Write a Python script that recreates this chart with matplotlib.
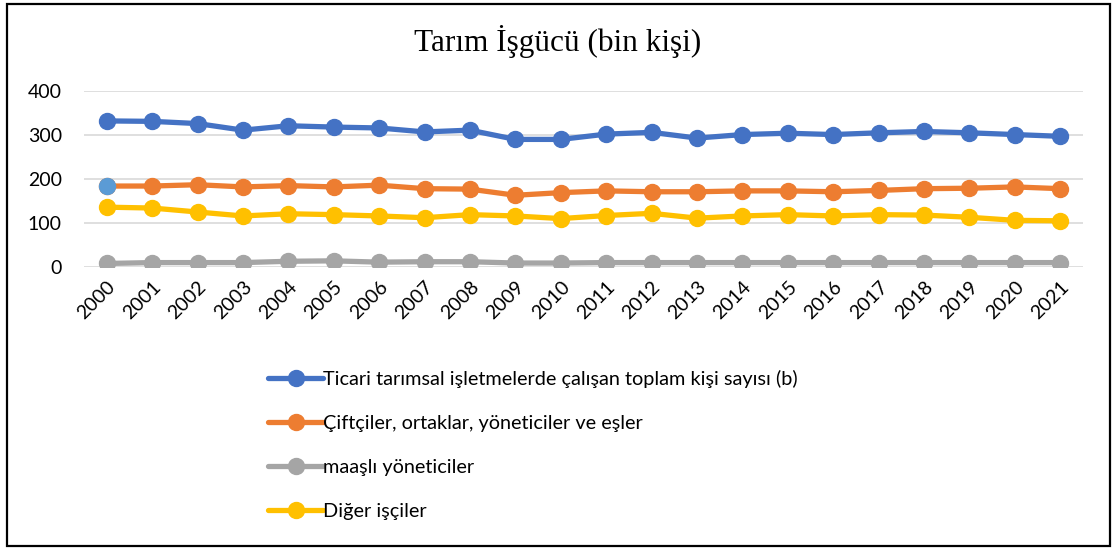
import matplotlib.pyplot as plt
from matplotlib.patches import Rectangle

years = [str(y) for y in range(2000, 2022)]

# Ticari tarımsal işletmelerde çalışan toplam kişi sayısı (b)
toplam = [332, 331, 326, 311, 321, 318, 316, 307, 311, 290, 290,
          302, 306, 293, 301, 304, 301, 305, 308, 305, 301, 297]
# Çiftçiler, ortaklar, yöneticiler ve eşler
ciftci = [184, 184, 187, 182, 185, 182, 186, 178, 177, 163, 169,
          173, 171, 171, 173, 173, 171, 174, 178, 179, 182, 178]
# maaşlı yöneticiler
maasli = [8, 10, 10, 10, 13, 14, 11, 12, 12, 9, 9,
          10, 10, 10, 10, 10, 10, 10, 10, 10, 10, 10]
# Diğer işçiler
diger = [136, 134, 125, 116, 121, 119, 116, 112, 119, 116, 110,
         117, 122, 111, 116, 119, 116, 119, 118, 113, 106, 105]

labels = ["Ticari tarımsal işletmelerde çalışan toplam kişi sayısı (b)",
          "Çiftçiler, ortaklar, yöneticiler ve eşler",
          "maaşlı yöneticiler",
          "Diğer işçiler"]
colors = ["#4472C4", "#ED7D31", "#A5A5A5", "#FFC000"]

W, H = 1113, 550
fig = plt.figure(figsize=(W / 100, H / 100), dpi=100)
plt.rcParams['font.family'] = ['Lato', 'DejaVu Sans']

ax = fig.add_axes([84 / W, (H - 267) / H, (1083 - 84) / W, (267 - 91) / H])

x = range(len(years))
for vals, lab, col in zip([toplam, ciftci, maasli, diger], labels, colors):
    ax.plot(x, vals, color=col, lw=3.8, marker='o', ms=11.5, label=lab,
            solid_capstyle='round', zorder=3)
# first point of the orange series is highlighted in light blue
ax.plot([0], [ciftci[0]], 'o', color="#5B9BD5", ms=11.5, zorder=4)

ax.set_xlim(-0.5, len(years) - 0.5)
ax.set_ylim(0, 400)
ax.set_yticks([0, 100, 200, 300, 400])
ax.set_xticks(list(x))
ax.set_xticklabels(years, rotation=45, ha='right', rotation_mode='anchor')
ax.tick_params(axis='both', length=0, labelsize=14, colors='black')
ax.tick_params(axis='y', pad=16)
ax.tick_params(axis='x', pad=8)
ax.grid(axis='y', color='#D9D9D9', lw=1.2, zorder=0)
for s in ax.spines.values():
    s.set_visible(False)

fig.text(558 / W, 1 - 42 / H, "Tarım İşgücü (bin kişi)", ha='center', va='center',
         fontsize=22.5, family=['Liberation Serif', 'DejaVu Serif'])

handles, labs = ax.get_legend_handles_labels()
leg = fig.legend(handles, labs, loc='upper left', bbox_to_anchor=(250 / W, 1 - 352 / H),
                 frameon=False, fontsize=14.3, handlelength=2.8, handletextpad=0.0,
                 labelspacing=1.36)

fig.patches.append(Rectangle((7 / W, 4 / H), (1110 - 7) / W, (546 - 4) / H,
                             transform=fig.transFigure, fill=False,
                             edgecolor='black', lw=1.6))

fig.savefig("out.png", dpi=100)
